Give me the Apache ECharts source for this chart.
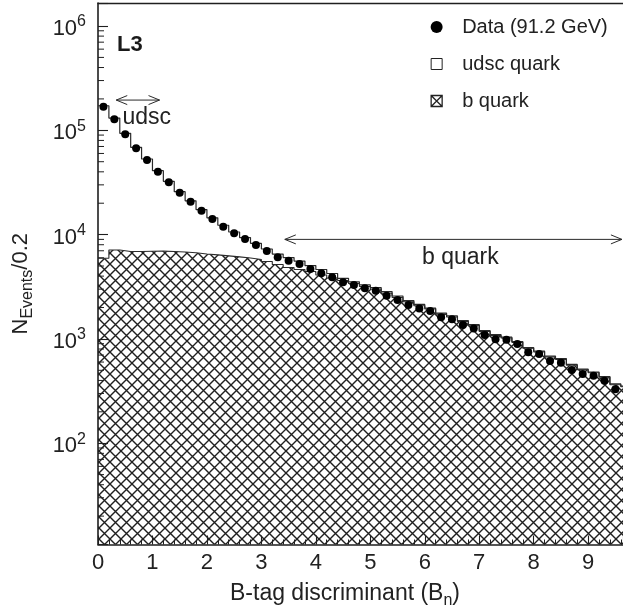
<!DOCTYPE html>
<html>
<head>
<meta charset="utf-8">
<script src="https://cdn.jsdelivr.net/npm/echarts@6/dist/echarts.min.js"></script>
<style>
  html, body { margin: 0; padding: 0; background: #fff; }
  #chart { width: 623px; height: 609px; }
</style>
</head>
<body>
<div id="chart"></div>
<script>
// B-tag discriminant, histogrammed in 0.2 wide bins starting at 0
const binStart = 0;
const binWidth = 0.2;

// measured events per bin (first bin centred at 0.1)
const dataCounts = [
  168000, 128000, 91600, 67200, 51900, 40100, 31700, 25200, 20700, 16900,
  14100, 11900, 10300, 9070, 7950, 6960, 6060, 5620, 5230, 4680,
  4260, 3900, 3490, 3290, 3060, 2900, 2600, 2360, 2110, 1960,
  1850, 1610, 1540, 1360, 1260, 1090, 990, 980, 893, 744,
  716, 614, 591, 504, 461, 444, 397, 329
];

// simulation, udsc stacked on b: total per bin
const totalCounts = [
  172000, 131000, 93600, 68700, 53100, 41000, 32400, 25800, 21100, 17400,
  14500, 12300, 10600, 9360, 8260, 7280, 6510, 6030, 5580, 5050,
  4630, 4240, 3810, 3530, 3290, 3110, 2850, 2580, 2330, 2140,
  1980, 1770, 1660, 1500, 1370, 1200, 1100, 1040, 944, 827,
  766, 686, 649, 569, 514, 482, 436, 370, 353
];

// simulation, b quark component per bin
const bCounts = [
  5930, 7110, 6880, 6880, 6920, 6940, 6880, 6810, 6690, 6520,
  6400, 6260, 6120, 5970, 5770, 5520, 5170, 4840, 4630, 4430,
  4100, 3840, 3630, 3400, 3180, 3010, 2750, 2500, 2270, 2080,
  1940, 1730, 1620, 1470, 1350, 1180, 1080, 1020, 927, 813,
  752, 673, 637, 559, 507, 474, 430, 364, 348
];

// visible horizontal range and labelled ticks
const xRange = [0, 9.64];
const xTickLabels = ['0', '1', '2', '3', '4', '5', '6', '7', '8', '9'];
// labelled decades on the vertical axis (10^k)
const yDecades = [2, 3, 4, 5, 6];

// legend entries
const legendNames = ['Data (91.2 GeV)', 'udsc quark', 'b quark'];

// selection windows marked with double arrows (x range, arrow height, label anchor)
const udscWindow = { from: 0.335, to: 1.13, at: 1.95e5, label: 'udsc', labelX: 0.45, labelY: 1.32e5 };
const bWindow = { from: 3.43, to: 9.62, at: 9.0e3, label: 'b quark', labelX: 5.95, labelY: 6.0e3 };

const FONT = '"Liberation Sans", Arial, Helvetica, sans-serif';
const INK = '#1f1f1f';

// histogram outline points: left bin edges, closed at the last right edge
function stepPoints(counts) {
  const pts = counts.map((c, i) => [binStart + i * binWidth, c]);
  pts.push([binStart + counts.length * binWidth, counts[counts.length - 1]]);
  return pts;
}

// cross-hatch tile for the b quark fill
function makeHatch() {
  const s = 11;
  const c = document.createElement('canvas');
  c.width = s; c.height = s;
  const g = c.getContext('2d');
  g.strokeStyle = '#202020';
  g.lineWidth = 1.4;
  g.beginPath();
  g.moveTo(-1, -1); g.lineTo(s + 1, s + 1);
  g.moveTo(s + 1, -1); g.lineTo(-1, s + 1);
  g.stroke();
  return c;
}

// minor ticks of the log axis at 2..9 x 10^k
const yMinorTicks = [];
for (let k = 1; k <= 6; k++) {
  for (let m = 2; m <= 9; m++) yMinorTicks.push([binStart, m * Math.pow(10, k)]);
}

const chart = echarts.init(document.getElementById('chart'), null, { renderer: 'canvas' });

const option = {
  animation: false,
  backgroundColor: '#fff',
  grid: { left: 98, top: 3, right: 0, bottom: 64.5, show: false, outerBoundsMode: 'none' },
  xAxis: [
    {
      type: 'value', min: xRange[0], max: xRange[1], interval: 1,
      axisLine: { lineStyle: { color: INK, width: 1.6 } },
      axisTick: { inside: true, length: 9, lineStyle: { color: INK, width: 1.1 } },
      minorTick: { show: true, splitNumber: 5, length: 5, lineStyle: { color: INK, width: 1 } },
      splitLine: { show: false },
      axisLabel: {
        fontFamily: FONT, fontSize: 22, color: '#222', margin: 7,
        showMaxLabel: false,
        formatter: function (v) {
          const i = Math.round(v);
          return Math.abs(v - i) < 1e-6 && xTickLabels[i] !== undefined ? xTickLabels[i] : '';
        }
      },
      name: 'B-tag discriminant (B{s|n})',
      nameLocation: 'middle',
      nameGap: 32,
      nameTextStyle: {
        fontFamily: FONT, fontSize: 23, color: '#222', lineHeight: 30,
        padding: [0, 31, 0, 0],
        rich: { s: { fontFamily: FONT, fontSize: 16, color: '#222', lineHeight: 16, verticalAlign: 'bottom' } }
      }
    },
    {
      // upper frame line
      type: 'value', position: 'top', min: xRange[0], max: xRange[1],
      axisLine: { show: true, lineStyle: { color: INK, width: 1.3 } },
      axisTick: { show: false }, axisLabel: { show: false }, splitLine: { show: false }
    }
  ],
  yAxis: {
    type: 'log', logBase: 10, min: 10.69, max: 1.662e6,
    axisLine: { show: true, lineStyle: { color: INK, width: 1.6 } },
    axisTick: { inside: true, length: 10, lineStyle: { color: INK, width: 1.1 } },
    splitLine: { show: false },
    axisLabel: {
      fontFamily: FONT, fontSize: 22, color: '#222', lineHeight: 30, margin: 12,
      padding: [6, 0, 0, 0],
      formatter: function (v) {
        const lg = Math.log10(v);
        const k = Math.round(lg);
        if (Math.abs(lg - k) > 1e-6 || yDecades.indexOf(k) < 0) return '';
        return '10{sup|' + k + '}';
      },
      rich: { sup: { fontFamily: FONT, fontSize: 16, color: '#222', lineHeight: 16, verticalAlign: 'top' } }
    },
    name: '{n|N}{s|Events}{n|/0.2}',
    nameLocation: 'middle',
    nameRotate: 90,
    nameGap: 62,
    nameTextStyle: {
      fontFamily: FONT, fontSize: 22, color: '#222', lineHeight: 30,
      padding: [0, 20, 0, 0],
      rich: {
        n: { fontFamily: FONT, fontSize: 22, color: '#222', lineHeight: 30 },
        s: { fontFamily: FONT, fontSize: 16, color: '#222', lineHeight: 16, verticalAlign: 'bottom' }
      }
    }
  },
  legend: {
    orient: 'vertical', left: 425, top: 11,
    itemWidth: 41, itemHeight: 12, itemGap: 15,
    selectedMode: false,
    textStyle: { fontFamily: FONT, fontSize: 20, color: '#222', lineHeight: 22 },
    data: [
      { name: legendNames[0], icon: 'circle', itemStyle: { color: '#000', borderWidth: 0 } },
      { name: legendNames[1], icon: 'path://M0,0M12,12M0.5,0.5L11.5,0.5L11.5,11.5L0.5,11.5Z',
        itemStyle: { color: '#fff', borderColor: '#222', borderWidth: 1 } },
      { name: legendNames[2], icon: 'path://M0,0M12,12M0.5,0.5L11.5,0.5L11.5,11.5L0.5,11.5Z M0.5,0.5L11.5,11.5 M11.5,0.5L0.5,11.5',
        itemStyle: { color: '#fff', borderColor: '#222', borderWidth: 1.3 } }
    ]
  },
  series: [
    {
      name: legendNames[2], type: 'line', step: 'end', symbol: 'none', silent: true, z: 2,
      data: stepPoints(bCounts),
      lineStyle: { color: '#2a2a2a', width: 1.1 },
      itemStyle: { color: '#2a2a2a' },
      areaStyle: { origin: 'start', opacity: 1, color: { image: makeHatch(), repeat: 'repeat' } }
    },
    {
      name: legendNames[1], type: 'line', step: 'end', symbol: 'none', silent: true, z: 3,
      data: stepPoints(totalCounts),
      lineStyle: { color: '#2a2a2a', width: 1.2 },
      itemStyle: { color: '#2a2a2a' }
    },
    {
      name: legendNames[0], type: 'scatter', symbol: 'circle', symbolSize: 8, silent: true, z: 5,
      data: dataCounts.map((c, i) => [binStart + (i + 0.5) * binWidth, c]),
      itemStyle: { color: '#000', opacity: 1 }
    },
    {
      name: 'minor-ticks', type: 'custom', silent: true, z: 6,
      data: yMinorTicks,
      encode: { x: 0, y: 1 },
      renderItem: function (params, api) {
        const p = api.coord([api.value(0), api.value(1)]);
        return {
          type: 'line',
          shape: { x1: p[0], y1: p[1], x2: p[0] + 6, y2: p[1] },
          style: { stroke: INK, lineWidth: 1 }
        };
      }
    }
  ]
};

chart.setOption(option);

// annotations placed through the chart's coordinate system
function toPx(x, y) { return chart.convertToPixel({ gridIndex: 0 }, [x, y]); }

function doubleArrow(w) {
  const a = toPx(w.from, w.at), b = toPx(w.to, w.at);
  const hx = 11, hy = 4.5;
  const st = { stroke: '#2a2a2a', lineWidth: 1, fill: null };
  return [
    { type: 'line', shape: { x1: a[0], y1: a[1], x2: b[0], y2: b[1] }, style: st },
    { type: 'polyline', shape: { points: [[a[0] + hx, a[1] - hy], [a[0], a[1]], [a[0] + hx, a[1] + hy]] }, style: st },
    { type: 'polyline', shape: { points: [[b[0] - hx, b[1] - hy], [b[0], b[1]], [b[0] - hx, b[1] + hy]] }, style: st }
  ];
}

function windowLabel(w) {
  const p = toPx(w.labelX, w.labelY);
  return {
    type: 'text', x: p[0], y: p[1],
    style: { text: w.label, fontFamily: FONT, fontSize: 23, fill: '#222', align: 'left', verticalAlign: 'middle' }
  };
}

chart.setOption({
  graphic: [
    ...doubleArrow(udscWindow),
    ...doubleArrow(bWindow),
    windowLabel(udscWindow),
    windowLabel(bWindow),
    {
      type: 'text', x: 117, y: 44.7,
      style: { text: 'L3', fontFamily: FONT, fontWeight: 'bold', fontSize: 22, fill: '#1a1a1a', align: 'left', verticalAlign: 'middle' }
    }
  ]
});
</script>
</body>
</html>
